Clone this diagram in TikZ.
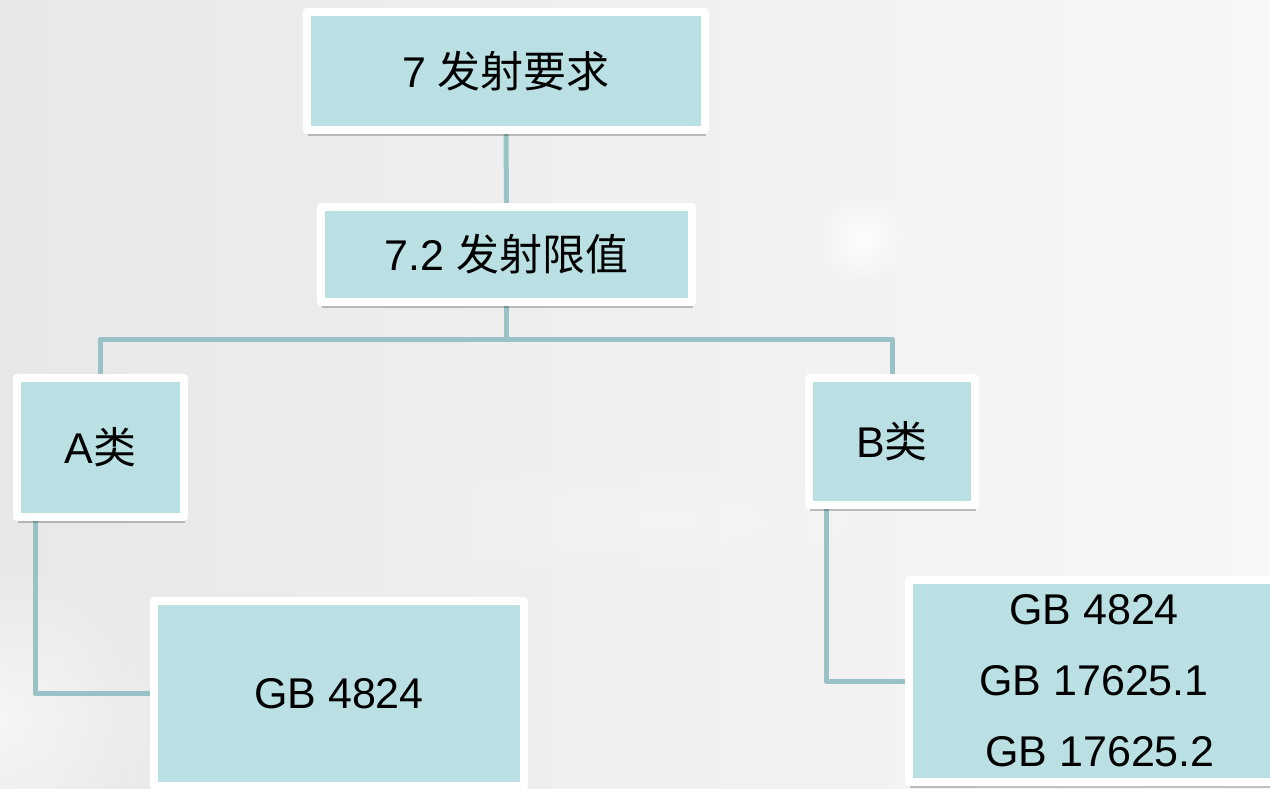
\documentclass[tikz,border=0pt]{standalone}
\usepackage{fontspec}
\setmainfont{Liberation Sans}
\newfontfamily\cjk{Noto Sans CJK SC}
\usetikzlibrary{shadows,fadings}
\definecolor{boxfill}{HTML}{BAE0E3}
\definecolor{connline}{HTML}{98C2C6}
\definecolor{bgleft}{HTML}{E8E8E8}
\definecolor{bgright}{HTML}{F7F7F7}
\tikzfading[name=glow, inner color=transparent!0, outer color=transparent!100]
\pgfdeclarelayer{back}
\pgfdeclarelayer{lines}
\pgfsetlayers{back,lines,main}
\tikzset{
  box/.style={rectangle, fill=boxfill, draw=white, line width=8pt, line join=round,
    inner sep=0pt, align=center,
    font=\fontsize{43}{71}\selectfont,
    drop shadow={shadow xshift=1pt, shadow yshift=-6pt, fill=black, opacity=0.22}},
  conn/.style={draw=connline, line width=5pt}
}
\begin{document}
\begin{tikzpicture}[x=1pt,y=-1pt]
\useasboundingbox (0,0) rectangle (1270,788);
\begin{pgfonlayer}{back}
  \shade[left color=bgleft, right color=bgright] (0,0) rectangle (1270,788);
  \fill[white, path fading=glow, opacity=0.9] (862,238) circle (48);
  \fill[white, path fading=glow, opacity=0.6] (0,720) circle (160);
  \fill[white, path fading=glow, opacity=0.25] (640,520) ellipse (300 and 70);
\end{pgfonlayer}

\node[box, minimum width=398pt, minimum height=118pt] (top) at (506,71) {7 {\cjk 发射要求}};
\node[box, minimum width=371pt, minimum height=95pt] (sub) at (506.5,254.5) {7.2 {\cjk 发射限值}};
\node[box, minimum width=167pt, minimum height=139pt] (A) at (100.5,447.5) {A{\cjk 类}};
\node[box, minimum width=166pt, minimum height=127pt] (B) at (892,441.5) {B{\cjk 类}};
\node[box, minimum width=370pt, minimum height=185pt] (GA) at (339,693.5) {GB 4824};
\node[box, minimum width=370pt, minimum height=202pt] (GB) at (1094,681) {GB 4824\\GB 17625.1\\\hspace*{12pt}GB 17625.2};

\coordinate (hub) at (506.5,339);
\coordinate (aL) at (35,0);
\coordinate (bL) at (826,0);

\begin{pgfonlayer}{lines}
  \draw[conn] (top.south) -- (sub.north);
  \draw[conn] (sub.south) -- (hub);
  \draw[conn, line join=round] (A.north) |- (hub) -| (B.north);
  \draw[conn, line join=round] (GA.west) -| (aL |- A.south);
  \draw[conn, line join=round] (GB.west) -| (bL |- B.south);
\end{pgfonlayer}
\end{tikzpicture}
\end{document}
